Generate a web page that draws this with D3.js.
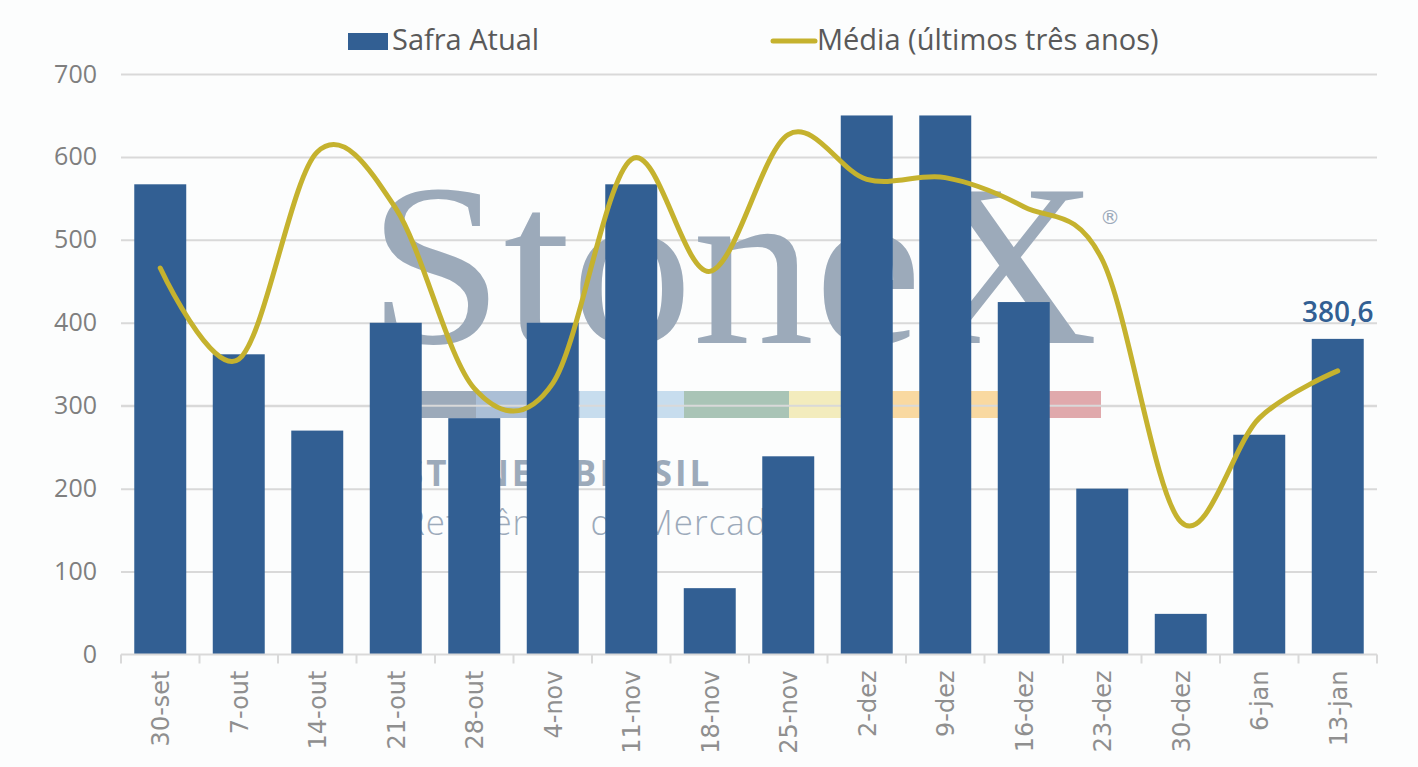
<!DOCTYPE html>
<html>
<head>
<meta charset="utf-8">
<script src="https://cdn.jsdelivr.net/npm/d3@7"></script>
<style>
  body { margin: 0; background: #fcfdfd; }
  svg { display: block; }
</style>
</head>
<body>
<div id="chart"></div>
<script>
const categories = ["30-set", "7-out", "14-out", "21-out", "28-out", "4-nov", "11-nov", "18-nov",
  "25-nov", "2-dez", "9-dez", "16-dez", "23-dez", "30-dez", "6-jan", "13-jan"];
const safraAtual = [567, 362, 270, 400, 285, 400, 567, 80, 239, 650, 650, 425, 200, 49, 265, 380.6];
const mediaTresAnos = [466, 356, 606, 538, 321, 327, 597, 462, 627, 573, 575, 540, 476, 160, 285, 342];
const yTicks = [0, 100, 200, 300, 400, 500, 600, 700];

const width = 1418;
const height = 767;
const barColor = "#325f93";
const lineColor = "#c5b22e";
const gridColor = "#d9d9d9";
const markColor = "#9caaba";

const svg = d3
  .select("#chart")
  .append("svg")
  .attr("width", width)
  .attr("height", height);

svg.append("rect").attr("width", width).attr("height", height).attr("fill", "#fcfdfd");

// Scales
const x = d3.scaleBand().domain(categories).range([121, 1377]).paddingInner(0.338).paddingOuter(0.169);
const y = d3.scaleLinear().domain([0, 700]).range([654.5, 74]);

// Grid lines
svg
  .append("g")
  .attr("transform", "translate(121,0)")
  .call(d3.axisLeft(y).tickValues(yTicks.slice(1)).tickSize(-1256).tickFormat(""))
  .call((g) => g.select(".domain").remove())
  .selectAll("line")
  .attr("stroke", gridColor)
  .attr("stroke-width", 2);

// Watermark (behind the bars)
const mark = svg.append("g").attr("pointer-events", "none");
mark
  .append("text")
  .attr("x", 368)
  .attr("y", 343)
  .attr("font-family", "Liberation Serif, DejaVu Serif, serif")
  .attr("font-size", 232)
  .attr("fill", markColor)
  .attr("textLength", 730)
  .attr("lengthAdjust", "spacingAndGlyphs")
  .text("StoneX");
mark
  .append("text")
  .attr("x", 1100)
  .attr("y", 224)
  .attr("font-family", "DejaVu Sans, sans-serif")
  .attr("font-size", 20)
  .attr("fill", markColor)
  .text("®");
const stripColors = ["#9caaba", "#abbfd6", "#c7ddee", "#a9c4b6", "#f3ecbd", "#f9d9a1", "#e0a9ac"];
const stripStarts = [421, 476, 580, 684, 789, 892, 998, 1101];
stripColors.forEach((c, i) => {
  mark
    .append("rect")
    .attr("x", stripStarts[i])
    .attr("y", 391)
    .attr("width", stripStarts[i + 1] - stripStarts[i])
    .attr("height", 27)
    .attr("fill", c);
});
svg
  .append("line")
  .attr("x1", 121).attr("x2", 1377)
  .attr("y1", y(300)).attr("y2", y(300))
  .attr("stroke", gridColor)
  .attr("stroke-width", 2);
mark
  .append("text")
  .attr("x", 404)
  .attr("y", 486)
  .attr("font-family", "Open Sans, sans-serif")
  .attr("font-weight", 700)
  .attr("font-size", 35)
  .attr("letter-spacing", 3)
  .attr("fill", markColor)
  .text("STONEX BRASIL");
mark
  .append("text")
  .attr("x", 404)
  .attr("y", 535)
  .attr("font-family", "Open Sans, sans-serif")
  .attr("font-weight", 300)
  .attr("font-size", 35)
  .attr("letter-spacing", 1)
  .attr("fill", markColor)
  .text("Referência de Mercado");

// Bars
svg
  .selectAll(".bar")
  .data(safraAtual)
  .enter()
  .append("rect")
  .attr("class", "bar")
  .attr("x", (d, i) => x(categories[i]))
  .attr("width", x.bandwidth())
  .attr("y", (d) => y(d))
  .attr("height", (d) => y(0) - y(d))
  .attr("fill", barColor);

// X axis with ticks on band boundaries
const step = x.step();
const boundaries = categories.map((c) => x(c) - (step * x.paddingInner()) / 2).concat([1377]);
const xAxis = svg.append("g");
xAxis
  .append("line")
  .attr("x1", 121).attr("x2", 1377)
  .attr("y1", y(0)).attr("y2", y(0))
  .attr("stroke", gridColor)
  .attr("stroke-width", 2);
xAxis
  .selectAll(".tick")
  .data(boundaries)
  .enter()
  .append("line")
  .attr("x1", (d) => d).attr("x2", (d) => d)
  .attr("y1", y(0)).attr("y2", y(0) + 9)
  .attr("stroke", gridColor)
  .attr("stroke-width", 2);
xAxis
  .selectAll(".xlabel")
  .data(categories)
  .enter()
  .append("text")
  .attr("class", "xlabel")
  .attr("transform", (d) => `translate(${x(d) + x.bandwidth() / 2 + 9},${y(0) + 16}) rotate(-90)`)
  .attr("text-anchor", "end")
  .attr("font-family", "DejaVu Sans, sans-serif")
  .attr("font-size", 24)
  .attr("fill", "#8f8f8f")
  .text((d) => d);

// Y axis labels
svg
  .append("g")
  .attr("transform", "translate(97,0)")
  .call(d3.axisLeft(y).tickValues(yTicks).tickSize(0).tickPadding(0))
  .call((g) => g.select(".domain").remove())
  .selectAll("text")
  .attr("font-family", "Open Sans, sans-serif")
  .attr("font-size", 25)
  .attr("fill", "#7f7f7f");

// Average line
const line = d3
  .line()
  .x((d, i) => x(categories[i]) + x.bandwidth() / 2)
  .y((d) => y(d))
  .curve(d3.curveCardinal.tension(0));
svg
  .append("path")
  .datum(mediaTresAnos)
  .attr("d", line)
  .attr("fill", "none")
  .attr("stroke", lineColor)
  .attr("stroke-width", 5)
  .attr("stroke-linecap", "round");

// Data label for last bar
const lastIdx = categories.length - 1;
svg
  .append("text")
  .attr("x", x(categories[lastIdx]) + x.bandwidth() / 2)
  .attr("y", y(safraAtual[lastIdx]) - 17)
  .attr("text-anchor", "middle")
  .attr("font-family", "Open Sans, sans-serif")
  .attr("font-weight", 600)
  .attr("font-size", 28)
  .attr("fill", barColor)
  .text(d3.format(".1f")(safraAtual[lastIdx]).replace(".", ","));

// Legend
const legend = svg.append("g").attr("font-family", "Open Sans, sans-serif").attr("font-size", 29).attr("fill", "#595959");
legend.append("rect").attr("x", 348).attr("y", 33).attr("width", 40).attr("height", 17).attr("fill", barColor);
legend.append("text").attr("x", 392).attr("y", 50).text("Safra Atual");
legend
  .append("line")
  .attr("x1", 773).attr("x2", 815)
  .attr("y1", 41).attr("y2", 41)
  .attr("stroke", lineColor)
  .attr("stroke-width", 5)
  .attr("stroke-linecap", "round");
legend.append("text").attr("x", 817).attr("y", 50).text("Média (últimos três anos)");
</script>
</body>
</html>
